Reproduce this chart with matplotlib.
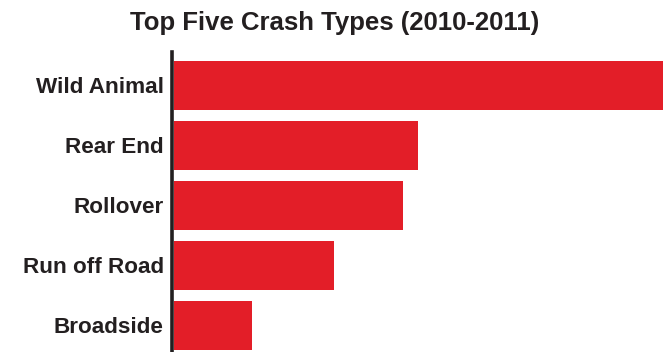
import matplotlib
matplotlib.use('Agg')
from matplotlib import pyplot as plt

crash_types = ['Wild Animal', 'Rear End', 'Rollover', 'Run off Road', 'Broadside']
crash_counts = [520, 245, 229, 160, 78]

bar_color = '#E31E28'

fig = plt.figure(figsize=(6.63, 3.52), dpi=100)
ax = fig.add_axes([172 / 663, 0, 1 - 172 / 663, 300 / 352])

ax.barh(range(len(crash_types)), crash_counts, height=0.82, color=bar_color, left=0)
ax.set_xlim(-2, 490)
ax.set_ylim(4.442, -0.558)

ax.set_yticks(range(len(crash_types)))
ax.set_yticklabels(crash_types, fontsize=16.2, fontweight='bold', color='#231f20',
                   family=['Liberation Sans', 'DejaVu Sans'])
ax.tick_params(axis='y', length=0, pad=6)
ax.set_xticks([])
for s in ['top', 'right', 'bottom']:
    ax.spines[s].set_visible(False)
ax.spines['left'].set_linewidth(2.6)
ax.spines['left'].set_color('#231f20')

fig.text(335 / 663, 1 - 23 / 352, 'Top Five Crash Types (2010-2011)', ha='center', va='center',
         fontsize=18.5, fontweight='bold', color='#231f20',
         family=['Liberation Sans Narrow', 'Liberation Sans', 'DejaVu Sans'])

fig.savefig('out.png', dpi=100)
